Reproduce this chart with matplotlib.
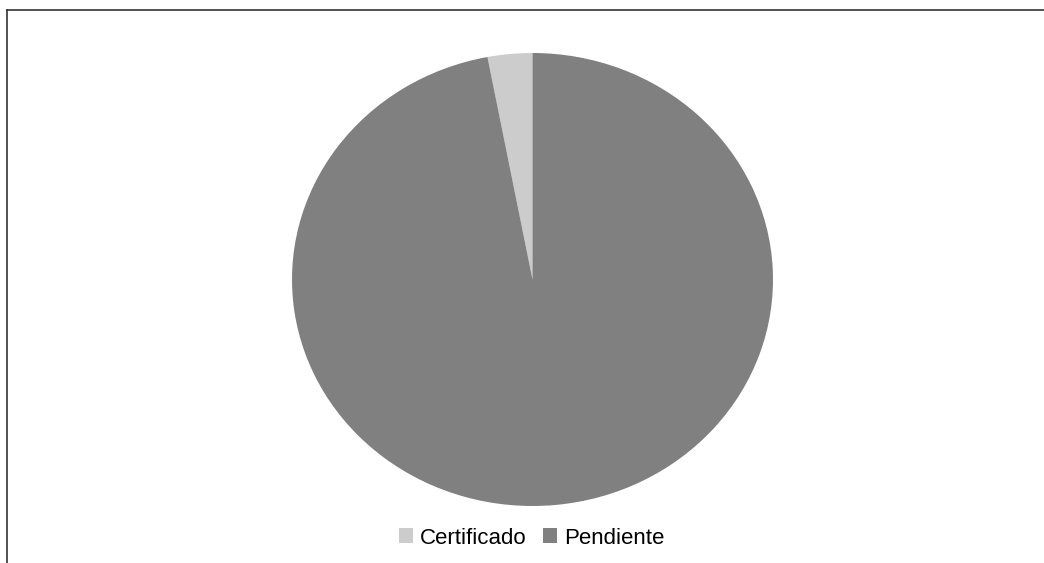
import matplotlib
matplotlib.use("Agg")
import matplotlib.pyplot as plt
from matplotlib.lines import Line2D

LABELS = ["Certificado", "Pendiente"]
VALUES = [3, 97]
COLORS = ["#CCCCCC", "#808080"]

W, H = 1044, 563

plt.rcParams["font.family"] = ["Liberation Sans", "DejaVu Sans"]

fig = plt.figure(figsize=(W / 100, H / 100), dpi=100)

# pie area in pixels (left, bottom, width, height) - it is slightly elliptical
ax = fig.add_axes([292 / W, (H - 506) / H, 481 / W, 453 / H])
wedges, _ = ax.pie(
    VALUES,
    colors=COLORS,
    startangle=90,
    counterclock=True,
    radius=1,
    wedgeprops=dict(linewidth=0),
)
ax.set_aspect("auto")
ax.set_xlim(-1, 1)
ax.set_ylim(-1, 1)
ax.axis("off")

# clipped outer border (top and left visible)
fig.add_artist(Line2D([7 / W, 7 / W], [0, 1 - 10 / H], color="#333333", lw=1.2))
fig.add_artist(Line2D([7 / W, 1], [1 - 10 / H, 1 - 10 / H], color="#333333", lw=1.2))

fig.legend(
    wedges,
    LABELS,
    loc="center",
    bbox_to_anchor=(532 / W, 1 - 538 / H),
    ncol=2,
    frameon=False,
    fontsize=16,
    handlelength=0.63,
    handleheight=0.63,
    handletextpad=0.32,
    columnspacing=0.75,
)

fig.savefig("out.png", dpi=100)
